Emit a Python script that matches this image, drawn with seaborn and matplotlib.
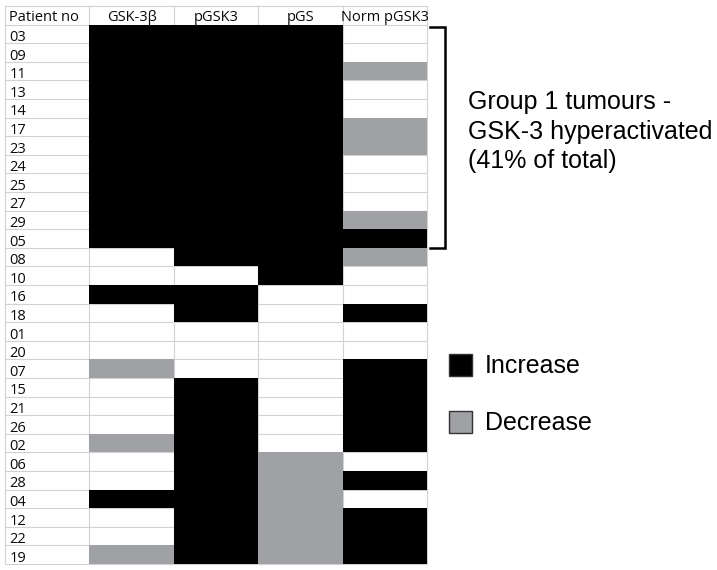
import numpy as np
import pandas as pd
import matplotlib
matplotlib.use("Agg")
import matplotlib.pyplot as plt
import seaborn as sns
from matplotlib.colors import ListedColormap
from matplotlib.patches import Rectangle
from matplotlib.lines import Line2D

# ---------------- data ----------------
patients = ["03", "09", "11", "13", "14", "17", "23", "24", "25", "27", "29", "05",
            "08", "10", "16", "18", "01", "20", "07", "15", "21", "26", "02", "06",
            "28", "04", "12", "22", "19"]
markers = ["GSK-3β", "pGSK3", "pGS", "Norm pGSK3"]
# 1 = increase, -1 = decrease, 0 = no change
gsk3b = [1, 1, 1, 1, 1, 1, 1, 1, 1, 1, 1, 1,
         0, 0, 1, 0, 0, 0, -1, 0, 0, 0, -1, 0, 0, 1, 0, 0, -1]
pgsk3 = [1, 1, 1, 1, 1, 1, 1, 1, 1, 1, 1, 1,
         1, 0, 1, 1, 0, 0, 0, 1, 1, 1, 1, 1, 1, 1, 1, 1, 1]
pgs = [1, 1, 1, 1, 1, 1, 1, 1, 1, 1, 1, 1,
       1, 1, 0, 0, 0, 0, 0, 0, 0, 0, 0, -1, -1, -1, -1, -1, -1]
norm_pgsk3 = [0, 0, -1, 0, 0, -1, -1, 0, 0, 0, -1, 1,
              -1, 0, 0, 1, 0, 0, 1, 1, 1, 1, 1, 0, 1, 0, 1, 1, 1]
header_first = "Patient no"
legend_labels = ["Increase", "Decrease"]
group_text = ["Group 1 tumours -", "GSK-3 hyperactivated", "(41% of total)"]

GREY = "#a0a1a5"
BLACK = "#000000"
GRID = "#d2d2d2"

W, H = 717, 570
fig = plt.figure(figsize=(W / 100, H / 100), dpi=100)
fig.patch.set_facecolor("white")


def fx(px):
    return px / W


def fy(py):
    return 1 - py / H


ax = fig.add_axes([fx(5), fy(564), fx(427) - fx(5), fy(6) - fy(564)])
ax.set_facecolor("white")

df = pd.DataFrame({m: v for m, v in zip(markers, [gsk3b, pgsk3, pgs, norm_pgsk3])},
                  index=patients)
cmap = ListedColormap([GREY, "white", BLACK])
sns.heatmap(df, ax=ax, cmap=cmap, vmin=-1.5, vmax=1.5, cbar=False,
            mask=(df == 0), xticklabels=False, yticklabels=False)

nrow, ncol = df.shape
ax.set_xlim(-1, ncol)
ax.set_ylim(nrow, -1)
for s in ax.spines.values():
    s.set_visible(False)
ax.set_xticks([])
ax.set_yticks([])
ax.set_xlabel("")
ax.set_ylabel("")

# grid lines beneath coloured cells
ax.hlines(np.arange(-1, nrow + 1), -1, ncol, color=GRID, lw=0.8, zorder=0.5, clip_on=False)
ax.vlines(np.arange(-1, ncol + 1), -1, nrow, color=GRID, lw=0.8, zorder=0.5, clip_on=False)

tfont = dict(family=["Open Sans", "DejaVu Sans"], fontsize=10.5, color="#0a0a0a")
ax.text(-1 + 0.05, -0.2, header_first, ha="left", va="baseline", **tfont)
for j, m in enumerate(markers):
    ax.text(j + 0.5, -0.2, m, ha="center", va="baseline", **tfont)
for i, p in enumerate(patients):
    ax.text(-1 + 0.05, i + 0.88, p, ha="left", va="baseline", **tfont)

# bracket
bx = [fx(430), fx(445), fx(445), fx(430)]
by = [fy(27), fy(27), fy(248), fy(248)]
fig.add_artist(Line2D(bx, by, transform=fig.transFigure, color="black", lw=1.8,
                      solid_joinstyle="miter"))

rfont = dict(family=["Liberation Sans", "DejaVu Sans"], fontsize=18, color="black")
for k, (t, yb) in enumerate(zip(group_text, [109, 139, 168])):
    fig.text(fx(468), fy(yb), t, ha="left", va="baseline", **rfont)

# legend
for lab, col, ytop, yb in zip(legend_labels, [BLACK, GREY], [354, 411], [373, 430]):
    fig.add_artist(Rectangle((fx(449), fy(ytop + 22)), fx(472) - fx(449), fy(ytop) - fy(ytop + 22),
                             transform=fig.transFigure, facecolor=col, edgecolor="#333333", lw=1))
    fig.text(fx(485), fy(yb), lab, ha="left", va="baseline", **rfont)

fig.savefig("out.png", dpi=100, facecolor="white")
